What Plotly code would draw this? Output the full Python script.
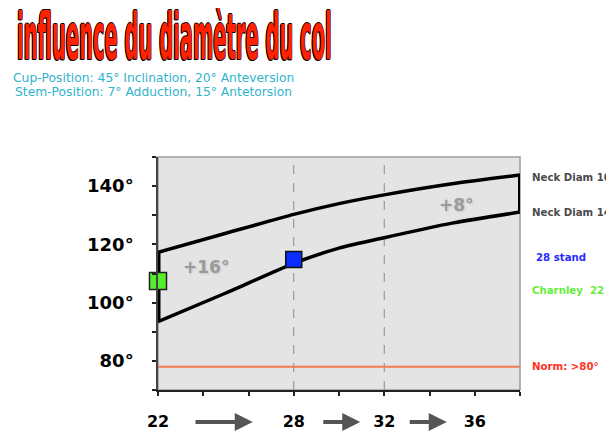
import plotly.graph_objects as go

# ---------------- data ----------------
neck10_x = [22, 25, 28, 30, 32, 35, 38]             # head diameter (mm)
neck_diam_10 = [117.3, 123.8, 130.3, 134.0, 137.0, 140.8, 143.8]   # ROM (deg)
neck14_x = [22, 25, 28, 30, 32, 35, 38]
neck_diam_14 = [93.5, 103.3, 113.5, 118.7, 122.3, 127.3, 131.1]
stand28_x, stand28_y = [28], [114.8]
charnley_x, charnley_y = [22], [107.4]
norm_value = 78
dashed_x = [28, 32]
gain_labels = ["+16°", "+8°"]
gain_x = [24.1, 35.2]
gain_y = [112.4, 133.4]
x_tickvals = [22, 24, 26, 28, 30, 32, 34, 36, 38]
x_ticktext = ["22", "", "", "28", "", "32", "", "36", ""]
y_tickvals = [70, 80, 90, 100, 110, 120, 130, 140, 150]
y_ticktext = ["", "80°", "", "100°", "", "120°", "", "140°", ""]
arrow_pairs = [(22, 28), (28, 32), (32, 36)]

# ---------------- layout geometry (px, in page coordinates) ----------------
OFF = 8                      # default page body margin
W, H = 614 - OFF, 432 - OFF
PL, PR, PT, PB = 158, 520, 157, 390   # plot area edges on the page
ML, MR, MT, MB = PL - OFF, OFF + W - PR, PT - OFF, OFF + H - PB
PW, PH = PR - PL, PB - PT


def px(xp):
    return (xp - PL) / PW


def py(yp):
    return (PB - yp) / PH


fig = go.Figure()

# dashed reference lines
for xv in dashed_x:
    fig.add_shape(type="line", xref="x", yref="paper", x0=xv, x1=xv, y0=0, y1=1,
                  line=dict(color="#8a8a8a", width=1, dash="dash"), layer="below")

# norm line
fig.add_shape(type="line", xref="paper", yref="y", x0=0, x1=1, y0=norm_value, y1=norm_value,
              line=dict(color="#f47a4f", width=2), layer="below")

# plot border (top/right)
fig.add_shape(type="rect", xref="paper", yref="paper", x0=0, x1=1, y0=0, y1=1,
              line=dict(color="#9a9a9a", width=1.5), layer="below")

# curves
for xs, ys in ((neck10_x, neck_diam_10), (neck14_x, neck_diam_14)):
    fig.add_trace(go.Scatter(x=xs, y=ys, mode="lines",
                             line=dict(color="black", width=3.5, shape="spline", smoothing=0.6),
                             cliponaxis=False, hoverinfo="skip"))
# connectors
fig.add_trace(go.Scatter(x=[neck10_x[0], neck14_x[0]], y=[neck_diam_10[0], neck_diam_14[0]],
                         mode="lines", line=dict(color="black", width=5), cliponaxis=False))
fig.add_trace(go.Scatter(x=[neck10_x[-1], neck14_x[-1]], y=[neck_diam_10[-1], neck_diam_14[-1]],
                         mode="lines", line=dict(color="black", width=4), cliponaxis=False))

# markers
fig.add_trace(go.Scatter(x=charnley_x, y=charnley_y, mode="markers", cliponaxis=False,
                         marker=dict(symbol="square", size=17, color="#55ee2a",
                                     line=dict(color="#222", width=1.5))))
fig.add_trace(go.Scatter(x=stand28_x, y=stand28_y, mode="markers", cliponaxis=False,
                         marker=dict(symbol="square", size=16, color="#0a2cff",
                                     line=dict(color="#111", width=1.5))))

ann = []
# title (index 0)
ann.append(dict(x=px(15), y=py(37), xref="paper", yref="paper", xanchor="left", yanchor="middle",
                text="influence du diamètre du col", showarrow=False,
                font=dict(family="DejaVu Sans, sans-serif",
                          size=26, weight="bold", color="#ff2200",
                          shadow="-1.5px 0 0 #000, 1px 0 0 #000, 0 0.7px 0 #000, 0 -0.7px 0 #000, -2px 0.5px 0 #000")))
# gain labels
for t, gx, gy in zip(gain_labels, gain_x, gain_y):
    ann.append(dict(x=gx, y=gy, xref="x", yref="y", text=t, showarrow=False,
                    font=dict(family="DejaVu Sans", size=17, color="#9a9a9a", weight="bold",
                              shadow="1px 1px 2px #c8c8c8")))

# right side labels
rfont = dict(family="DejaVu Sans", size=10.2, weight="bold")
ann.append(dict(x=px(530), y=neck_diam_10[-1] - 1, xref="paper", yref="y", xanchor="left",
                text="Neck Diam 10", showarrow=False, font=dict(rfont, color="#4a4a4a")))
ann.append(dict(x=px(530), y=neck_diam_14[-1] - 0.2, xref="paper", yref="y", xanchor="left",
                text="Neck Diam 14", showarrow=False, font=dict(rfont, color="#4a4a4a")))
ann.append(dict(x=px(534), y=py(257), xref="paper", yref="paper", xanchor="left",
                text="28 stand", showarrow=False, font=dict(rfont, color="#2a2aff")))
ann.append(dict(x=px(530), y=py(290), xref="paper", yref="paper", xanchor="left",
                text="Charnley  22", showarrow=False, font=dict(rfont, color="#66ee3a")))
ann.append(dict(x=px(530), y=norm_value, xref="paper", yref="y", xanchor="left",
                text="Norm: >80°", showarrow=False, font=dict(rfont, color="#ff3322")))

# arrows between head sizes
arrow_offsets = [(36, 41), (28, 24), (24, 28)]
for (a, b), (s0, s1) in zip(arrow_pairs, arrow_offsets):
    ann.append(dict(x=b, y=py(422), xref="x", yref="paper", ax=a, ay=py(422),
                    axref="x", ayref="y", text="", showarrow=True,
                    arrowhead=2, arrowsize=0.9, arrowwidth=4, arrowcolor="#555555",
                    standoff=s1, startstandoff=s0))

# subtitles
sfont = dict(family="DejaVu Sans, sans-serif", size=12.3, color="#2fb4cc")
ann.append(dict(x=px(11), y=py(78), xref="paper", yref="paper", xanchor="left", yanchor="middle",
                text="Cup-Position: 45° Inclination, 20° Anteversion", showarrow=False, font=sfont))
ann.append(dict(x=px(13), y=py(92), xref="paper", yref="paper", xanchor="left", yanchor="middle",
                text="Stem-Position: 7° Adduction, 15° Antetorsion", showarrow=False, font=sfont))

fig.update_layout(
    width=W, height=H,
    margin=dict(l=ML, r=MR, t=MT, b=MB, pad=0, autoexpand=False),
    paper_bgcolor="white", plot_bgcolor="#e4e4e4",
    showlegend=False,
    annotations=ann,
    xaxis=dict(range=[22, 38], tickvals=x_tickvals, ticktext=x_ticktext, automargin=False,
               showgrid=False, zeroline=False, showline=True, linecolor="#222", linewidth=1.5,
               ticks="outside", ticklen=4, tickcolor="#222", tickwidth=1.5,
               ticklabelstandoff=12,
               tickfont=dict(family="DejaVu Sans", size=16, color="black", weight="bold")),
    yaxis=dict(range=[70, 150], tickvals=y_tickvals, ticktext=y_ticktext, automargin=False,
               showgrid=False, zeroline=False, showline=True, linecolor="#444", linewidth=1.5,
               ticks="outside", ticklen=4, tickcolor="#222", tickwidth=1.5,
               ticklabelstandoff=15,
               tickfont=dict(family="DejaVu Sans", size=18, color="black", weight="bold")),
)

# stretch the WordArt-like title vertically / condense horizontally (text stays real text)
post = """
var gd = document.getElementById('{plot_id}');
function squashTitle(){
  var t = gd.querySelector('.annotation[data-index="0"] text.annotation-text');
  if(!t) return;
  t.removeAttribute('transform');
  var b = t.getBBox();
  var cx = b.x, cy = b.y + b.height * 0.5;
  t.setAttribute('transform', 'translate(' + cx + ',' + cy + ') scale(0.75,2.45) translate(' + (-cx) + ',' + (-cy) + ')');
}
squashTitle();
gd.on('plotly_afterplot', squashTitle);
"""

fig.write_html("out.html", post_script=post)
